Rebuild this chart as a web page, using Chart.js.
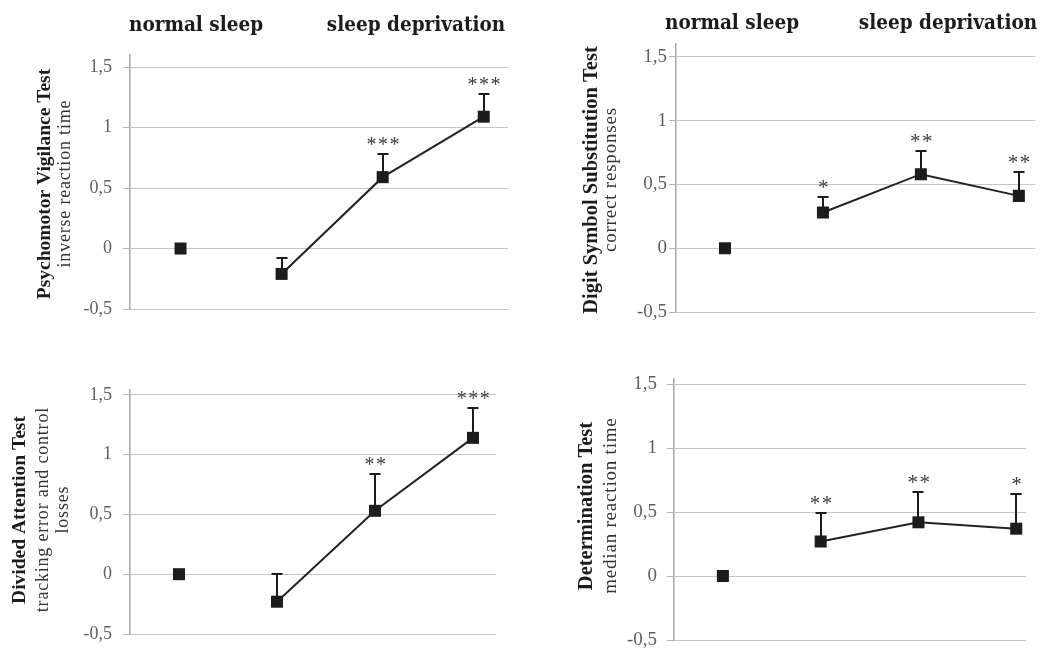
<!DOCTYPE html>
<html>
<head>
<meta charset="utf-8">
<script src="https://cdn.jsdelivr.net/npm/chart.js@4.4.1/dist/chart.umd.min.js"></script>
<style>
  html, body { margin: 0; padding: 0; background: #fff; overflow: hidden; width: 1044px; height: 648px; }
  canvas { position: absolute; }
</style>
</head>
<body>
<canvas id="c1" width="522" height="340" style="left:0;top:0"></canvas>
<canvas id="c2" width="522" height="340" style="left:522px;top:0"></canvas>
<canvas id="c3" width="522" height="340" style="left:0;top:330px"></canvas>
<canvas id="c4" width="522" height="340" style="left:522px;top:330px"></canvas>
<script>
// Conditions and measurement sessions (0 = after normal sleep, 1-3 = during sleep deprivation)
const conditions = ['normal sleep', 'sleep deprivation'];
const timePoints = [0, 1, 2, 3];
const yTicks = [-0.5, 0, 0.5, 1, 1.5];
const yTickLabels = ['-0,5', '0', '0,5', '1', '1,5'];

// Psychomotor Vigilance Test: inverse reaction time
const pvtMean = [0, -0.21, 0.59, 1.09];
const pvtError = [0, 0.13, 0.19, 0.19];
const pvtSig = ['', '', '***', '***'];

// Digit Symbol Substitution Test: correct responses
const dsstMean = [0, 0.28, 0.58, 0.41];
const dsstError = [0, 0.12, 0.18, 0.19];
const dsstSig = ['', '*', '**', '**'];

// Divided Attention Test: tracking error and control losses
const datMean = [0, -0.23, 0.53, 1.14];
const datError = [0, 0.23, 0.31, 0.25];
const datSig = ['', '', '**', '***'];

// Determination Test: median reaction time
const dtMean = [0, 0.27, 0.42, 0.37];
const dtError = [0, 0.22, 0.24, 0.275];
const dtSig = ['', '**', '**', '*'];

// Panel geometry in page pixels
const panels = [
  { id: 'c1', left: 0, top: 0, area: { l: 130, t: 55, r: 508, b: 309 }, yMax: 1.6, xMax: 3.24, tickPad: 11, fs: 18,
    title: 'Psychomotor Vigilance Test', sub: ['inverse reaction time'], titleX: 45, subX: [65], textY: 184,
    mean: pvtMean, err: pvtError, sig: pvtSig, header: { y: 31, x: [196, 416] } },
  { id: 'c2', left: 522, top: 0, area: { l: 676, t: 44, r: 1044, b: 312 }, yMax: 1.6, xMax: 3.17, tickPad: 2, fs: 19,
    title: 'Digit Symbol Substitution Test', sub: ['correct responses'], titleX: 592, subX: [611], textY: 180,
    mean: dsstMean, err: dsstError, sig: dsstSig, header: { y: 29, x: [732, 948] } },
  { id: 'c3', left: 0, top: 330, area: { l: 130, t: 390, r: 496, b: 634 }, yMax: 1.54, xMax: 3.235, tickPad: 11, fs: 18,
    title: 'Divided Attention Test', sub: ['tracking error and control', 'losses'], titleX: 20, subX: [43, 63], textY: 510,
    mean: datMean, err: datError, sig: datSig, header: null },
  { id: 'c4', left: 522, top: 330, area: { l: 674, t: 379, r: 1026, b: 640 }, yMax: 1.54, xMax: 3.10, tickPad: 10, fs: 19,
    title: 'Determination Test', sub: ['median reaction time'], titleX: 587, subX: [611], textY: 506,
    mean: dtMean, err: dtError, sig: dtSig, header: null }
];

const AXIS_W = 60;
const CANVAS_W = 522, CANVAS_H = 340;
const INK = '#1c1c1c';

function rotatedText(ctx, text, x, y, font, color, spacing) {
  ctx.save();
  ctx.translate(x, y);
  ctx.rotate(-Math.PI / 2);
  ctx.font = font;
  ctx.fillStyle = color;
  ctx.textAlign = 'center';
  ctx.textBaseline = 'middle';
  ctx.letterSpacing = spacing + 'px';
  ctx.fillText(text, spacing / 2, 0);
  ctx.restore();
}

const decorations = {
  id: 'decorations',
  beforeDatasetsDraw(chart, args, opts) {
    const p = opts.panel;
    const ctx = chart.ctx;
    const xs = chart.scales.x, ys = chart.scales.y;
    ctx.save();
    ctx.strokeStyle = INK;
    ctx.lineWidth = 2;
    for (let i = 1; i < timePoints.length; i++) {
      if (!p.err[i]) continue;
      const x = Math.round(xs.getPixelForValue(timePoints[i]));
      const y0 = ys.getPixelForValue(p.mean[i]);
      const y1 = Math.round(ys.getPixelForValue(p.mean[i] + p.err[i]));
      ctx.beginPath();
      ctx.moveTo(x, y0);
      ctx.lineTo(x, y1);
      ctx.moveTo(x - 5.5, y1);
      ctx.lineTo(x + 5.5, y1);
      ctx.stroke();
    }
    ctx.restore();
  },
  afterDraw(chart, args, opts) {
    const p = opts.panel;
    const ctx = chart.ctx;
    const xs = chart.scales.x, ys = chart.scales.y;
    // significance markers above the error bars
    ctx.save();
    ctx.font = (p.fs + 2) + 'px "Liberation Serif"';
    ctx.fillStyle = '#3c3c3c';
    ctx.textAlign = 'center';
    ctx.textBaseline = 'alphabetic';
    ctx.letterSpacing = '1.5px';
    for (let i = 0; i < timePoints.length; i++) {
      if (!p.sig[i]) continue;
      const x = xs.getPixelForValue(timePoints[i]);
      const y1 = ys.getPixelForValue(p.mean[i] + p.err[i]);
      ctx.fillText(p.sig[i], x + 1, y1 - 3);
    }
    ctx.restore();

    // condition headers
    if (p.header) {
      ctx.save();
      ctx.font = 'bold 20.5px "DejaVu Serif Condensed", "DejaVu Serif"';
      try { ctx.fontStretch = 'condensed'; } catch (e) {}
      ctx.fillStyle = INK;
      ctx.textAlign = 'center';
      ctx.textBaseline = 'alphabetic';
      conditions.forEach((c, k) => ctx.fillText(c, p.header.x[k] - p.left, p.header.y - p.top));
      ctx.restore();
    }

    // y axis titles
    const tf = p.fs + 1.5;
    rotatedText(ctx, p.title, p.titleX - p.left, p.textY - p.top, 'bold ' + tf + 'px "Liberation Serif"', INK, 0);
    p.sub.forEach((s, k) => rotatedText(ctx, s, p.subX[k] - p.left, p.textY - p.top, p.fs + 'px "Liberation Serif"', '#333', 0.8));
  }
};

panels.forEach(p => {
  const ctx = document.getElementById(p.id).getContext('2d');
  new Chart(ctx, {
    type: 'scatter',
    data: {
      datasets: [
        {
          label: conditions[0],
          data: [{ x: timePoints[0], y: p.mean[0] }],
          pointStyle: 'rect', pointRadius: 8.5, pointBorderWidth: 0,
          backgroundColor: INK, borderColor: INK
        },
        {
          label: conditions[1],
          data: timePoints.slice(1).map((t, i) => ({ x: t, y: p.mean[i + 1] })),
          showLine: true, borderColor: '#222', borderWidth: 2,
          pointStyle: 'rect', pointRadius: 8.5, pointBorderWidth: 0,
          backgroundColor: INK, pointBackgroundColor: INK
        }
      ]
    },
    options: {
      responsive: false,
      devicePixelRatio: 1,
      animation: false,
      layout: {
        padding: {
          left: p.area.l - p.left - AXIS_W,
          right: p.left + CANVAS_W - p.area.r,
          top: p.area.t - p.top,
          bottom: p.top + CANVAS_H - p.area.b
        }
      },
      plugins: {
        legend: { display: false },
        tooltip: { enabled: false },
        decorations: { panel: p }
      },
      scales: {
        x: { type: 'linear', display: false, min: -0.5, max: p.xMax },
        y: {
          type: 'linear',
          min: -0.5, max: p.yMax,
          afterBuildTicks: s => { s.ticks = yTicks.map(v => ({ value: v })); },
          afterFit: s => { s.width = AXIS_W; },
          ticks: {
            callback: (v, i) => yTickLabels[i],
            color: '#5e5e5e',
            padding: p.tickPad,
            font: { family: '"Liberation Serif"', size: p.fs }
          },
          grid: { color: '#c6c6c6', lineWidth: 1, tickLength: 7, tickColor: '#b4b4b4' },
          border: { color: '#a8a8a8', width: 1.5 }
        }
      }
    },
    plugins: [decorations]
  });
});
</script>
</body>
</html>
